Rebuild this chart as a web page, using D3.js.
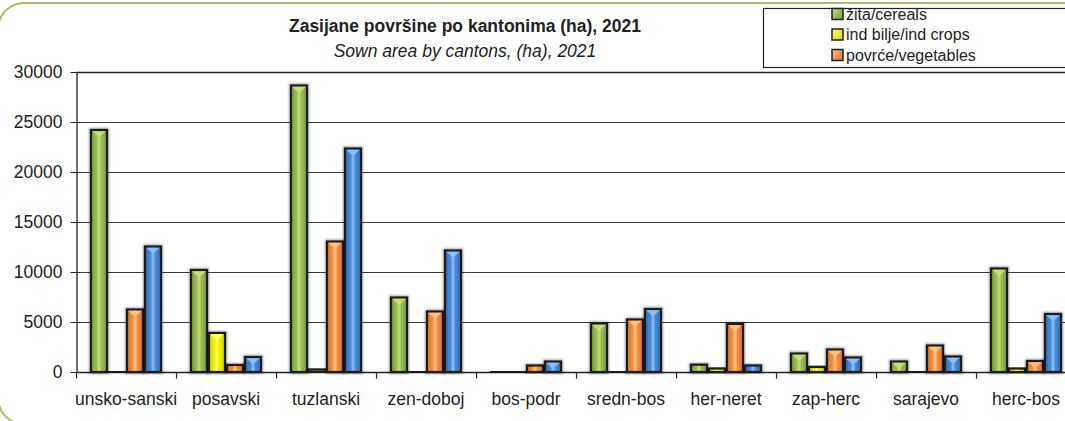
<!DOCTYPE html>
<html>
<head>
<meta charset="utf-8">
<script src="https://cdn.jsdelivr.net/npm/d3@7"></script>
<style>
  html, body { margin: 0; padding: 0; background: #fff; }
  svg { display: block; font-family: "Liberation Sans", Arial, sans-serif; }
</style>
</head>
<body>
<svg id="chart" width="1065" height="421"></svg>
<script>
// Sown area by canton (ha), 2021
const cantons = ["unsko-sanski", "posavski", "tuzlanski", "zen-doboj", "bos-podr",
                 "sredn-bos", "her-neret", "zap-herc", "sarajevo", "herc-bos"];
const cereals    = [24200, 10200, 28650, 7450,   50, 4850,  730, 1850, 1050, 10350];
const indCrops   = [   30,  3900,   250,   30,   30,   30,  350,  500,   30,   350];
const vegetables = [ 6250,   700, 13050, 6050,  650, 5250, 4800, 2250, 2650,  1100];
const fodder     = [12550,  1500, 22350, 12150, 1050, 6300,  650, 1450, 1550,  5800];
const yTicks = [0, 5000, 10000, 15000, 20000, 25000, 30000];

const seriesNames = ["žita/cereals", "ind bilje/ind crops", "povrće/vegetables", "fodder"];
const seriesValues = [cereals, indCrops, vegetables, fodder];
const legendNames = seriesNames.slice(0, 3);

const palette = [
  { base: "#9bbf4f", light: "#c2de82", dark: "#7a9c38" },
  { base: "#f2f200", light: "#ffff7a", dark: "#d4d400" },
  { base: "#f4913f", light: "#fcc38a", dark: "#d87425" },
  { base: "#4a8ad8", light: "#8fc0f2", dark: "#2f6cb8" }
];

const svg = d3.select("#chart");
const W = 1065, H = 421;
const plot = { left: 76, right: 1076, top: 72, bottom: 372 };

// Gradients for bevelled bars
const defs = svg.append("defs");
palette.forEach((c, i) => {
  const g = defs.append("linearGradient").attr("id", "grad" + i)
    .attr("x1", "0%").attr("x2", "100%").attr("y1", "0%").attr("y2", "0%");
  g.append("stop").attr("offset", "0%").attr("stop-color", c.dark);
  g.append("stop").attr("offset", "35%").attr("stop-color", c.base);
  g.append("stop").attr("offset", "50%").attr("stop-color", c.light);
  g.append("stop").attr("offset", "65%").attr("stop-color", c.base);
  g.append("stop").attr("offset", "100%").attr("stop-color", c.dark);
  const lg = defs.append("linearGradient").attr("id", "lgrad" + i)
    .attr("x1", "0%").attr("x2", "100%").attr("y1", "0%").attr("y2", "100%");
  lg.append("stop").attr("offset", "0%").attr("stop-color", c.light);
  lg.append("stop").attr("offset", "100%").attr("stop-color", c.dark);
});
const glow = defs.append("filter").attr("id", "halo")
  .attr("x", "-30%").attr("y", "-30%").attr("width", "160%").attr("height", "160%");
glow.append("feMorphology").attr("in", "SourceAlpha").attr("operator", "dilate").attr("radius", 1).attr("result", "d");
glow.append("feGaussianBlur").attr("in", "d").attr("stdDeviation", 0.8).attr("result", "b");
glow.append("feComponentTransfer").attr("in", "b").attr("result", "s")
  .append("feFuncA").attr("type", "linear").attr("slope", 0.35);
const gm = glow.append("feMerge");
gm.append("feMergeNode").attr("in", "s");
gm.append("feMergeNode").attr("in", "SourceGraphic");

// Outer frame
svg.append("rect")
  .attr("x", -2).attr("y", 3).attr("width", 1120).attr("height", 421)
  .attr("rx", 26).attr("ry", 26)
  .attr("fill", "none").attr("stroke", "#a6c06a").attr("stroke-width", 2);

// Scales
const x0 = d3.scaleBand().domain(cantons).range([plot.left, plot.right])
  .paddingInner(0.28).paddingOuter(0.14);
const x1 = d3.scaleBand().domain(d3.range(4)).range([0, x0.bandwidth()]);
const y = d3.scaleLinear().domain([0, 30000]).range([plot.bottom, plot.top]);

// Gridlines
svg.append("g").selectAll("line").data(yTicks.filter(t => t > 0)).join("line")
  .attr("x1", plot.left).attr("x2", W + 20)
  .attr("y1", d => Math.round(y(d)) + 0.5).attr("y2", d => Math.round(y(d)) + 0.5)
  .attr("stroke", d => d === 30000 ? "#2a2a2a" : "#3a3a3a")
  .attr("stroke-width", d => d === 30000 ? 1.6 : 1.1);

// Y axis
const yAxis = d3.axisLeft(y).tickValues(yTicks).tickFormat(d3.format("d"))
  .tickSize(6).tickSizeOuter(0).tickPadding(8);
const gy = svg.append("g").attr("transform", `translate(${plot.left + 0.5},0)`).call(yAxis);
gy.select(".domain").attr("stroke", "#222").attr("stroke-width", 1.3);
gy.selectAll(".tick line").attr("stroke", "#222");
gy.selectAll("text").attr("font-size", "17.5px").attr("fill", "#222")
  .attr("font-family", "Liberation Sans, Arial, sans-serif");

// X axis: ticks at group boundaries
const gx = svg.append("g").attr("transform", `translate(0,${Math.round(plot.bottom) + 0.5})`);
gx.append("line").attr("x1", plot.left).attr("x2", W + 20)
  .attr("stroke", "#222").attr("stroke-width", 1.3);
const bounds = d3.range(cantons.length).map(i => plot.left + i * x0.step());
gx.selectAll(".bt").data(bounds).join("line").attr("class", "bt")
  .attr("x1", d => d + 0.5).attr("x2", d => d + 0.5).attr("y1", 0).attr("y2", 6)
  .attr("stroke", "#222").attr("stroke-width", 1.2);
gx.selectAll("text").data(cantons).join("text")
  .attr("x", d => x0(d) + x0.bandwidth() / 2).attr("y", 32)
  .attr("text-anchor", "middle").attr("font-size", "17.5px").attr("fill", "#222")
  .text(d => d);

// Bars
const barData = [];
cantons.forEach((c, ci) => {
  seriesValues.forEach((vals, si) => barData.push({ c, si, v: vals[ci] }));
});
const bars = svg.append("g").selectAll("g").data(barData).join("g")
  .attr("filter", "url(#halo)");
bars.append("rect")
  .attr("x", d => x0(d.c) + x1(d.si) + 1)
  .attr("y", d => y(d.v))
  .attr("width", x1.bandwidth() - 2)
  .attr("height", d => y(0) - y(d.v))
  .attr("fill", d => `url(#grad${d.si})`)
  .attr("stroke", "#1c1c1c").attr("stroke-width", 2.2);
// bevel chevron at the top of each bar
bars.filter(d => y(0) - y(d.v) > 8).append("path")
  .attr("d", d => {
    const xl = x0(d.c) + x1(d.si) + 2.2, xr = x0(d.c) + x1(d.si) + x1.bandwidth() - 2.2;
    const yt = y(d.v) + 1.2, xm = (xl + xr) / 2;
    return `M${xl},${yt}L${xr},${yt}L${xm},${yt + 6}Z`;
  })
  .attr("fill", d => palette[d.si].light).attr("opacity", 0.95);

// Title
svg.append("text").attr("x", 465).attr("y", 32).attr("text-anchor", "middle")
  .attr("font-size", "17.5px").attr("font-weight", "bold").attr("fill", "#222")
  .text("Zasijane površine po kantonima (ha), 2021");
svg.append("text").attr("x", 465).attr("y", 57).attr("text-anchor", "middle")
  .attr("font-size", "17.5px").attr("font-style", "italic").attr("fill", "#222")
  .text("Sown area by cantons, (ha), 2021");

// Legend
const lg = svg.append("g");
lg.append("rect").attr("x", 763.5).attr("y", 8.5).attr("width", 320).attr("height", 59)
  .attr("fill", "#fff").attr("stroke", "#222").attr("stroke-width", 1.2);
const items = lg.selectAll("g.item").data(legendNames).join("g").attr("class", "item")
  .attr("transform", (d, i) => `translate(832,${6 + i * 20.5})`);
items.append("rect").attr("x", 0).attr("y", 2.5).attr("width", 11).attr("height", 11)
  .attr("fill", (d, i) => `url(#lgrad${i})`).attr("stroke", "#222").attr("stroke-width", 1.5);
items.append("text").attr("x", 14).attr("y", 13.5).attr("font-size", "16px").attr("fill", "#222")
  .text(d => d);
</script>
</body>
</html>
